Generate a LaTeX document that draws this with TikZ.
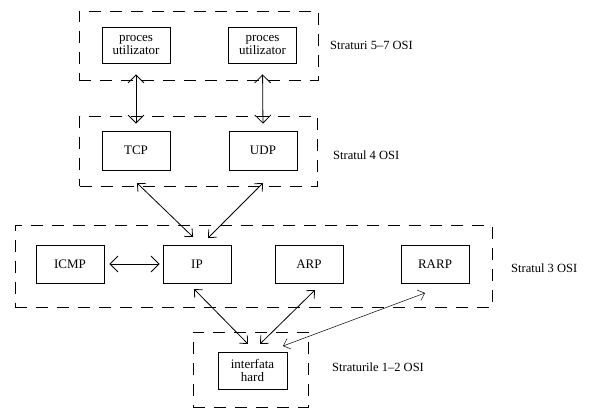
\documentclass[tikz,border=0pt]{standalone}
\usepackage{fontspec}
\setmainfont{Liberation Serif}
\usetikzlibrary{arrows.meta}
\begin{document}
\begin{tikzpicture}[x=1pt,y=-1pt,
  box/.style={draw,line width=0.8pt,minimum width=68pt,minimum height=38pt,inner sep=0pt,align=center,font=\fontsize{13}{13.5}\selectfont},
  frame/.style={draw,line width=0.8pt,dash pattern=on 12pt off 9pt,inner sep=0pt},
  lbl/.style={anchor=west,inner sep=0pt,font=\fontsize{12.5}{14}\selectfont},
  arr/.style={line width=0.8pt,{Straight Barb[length=8pt,width=16pt]}-{Straight Barb[length=8pt,width=16pt]}},
  darr/.style={line width=0.8pt,{Straight Barb[length=6pt,width=11pt]}-{Straight Barb[length=6pt,width=11pt]}},
  tarr/.style={line width=0.5pt,{Straight Barb[length=6pt,width=11pt]}-{Straight Barb[length=6pt,width=11pt]}}]
\useasboundingbox (0,0) rectangle (590,420);
% frames
\node[frame,minimum width=239pt,minimum height=69pt] (f57) at (198.5,46) {};
\node[frame,minimum width=238pt,minimum height=70pt] (f4) at (198.5,151) {};
\node[frame,minimum width=477pt,minimum height=82pt] (f3) at (253.5,266.5) {};
\node[frame,minimum width=115pt,minimum height=75pt] (f12) at (250.5,369.5) {};
% boxes
\node[box,minimum height=36pt] (p1) at (136,45) {proces\\utilizator};
\node[box,minimum height=36pt] (p2) at (262.5,45) {proces\\utilizator};
\node[box,minimum height=39pt] (tcp) at (136,150.5) {TCP};
\node[box,minimum height=39pt] (udp) at (263,150.5) {UDP};
\node[box] (icmp) at (70,264) {ICMP};
\node[box] (ip) at (197,264) {IP};
\node[box] (arp) at (309,264) {ARP};
\node[box] (rarp) at (435,264) {RARP};
\node[box,minimum width=69pt,minimum height=37pt] (hw) at (252.5,370.5) {interfata\\hard};
% labels
\node[lbl] (l57) at (330,45) {Straturi 5--7 OSI};
\node[lbl] (l4) at (333,155) {Stratul 4 OSI};
\node[lbl] (l3) at (511,268) {Stratul 3 OSI};
\node[lbl] (l12) at (332,367) {Straturile 1--2 OSI};
% connectors
\draw[arr,shorten <=11pt,shorten >=7pt] (p1.south) -- (tcp.north);
\draw[arr,shorten <=11pt,shorten >=7pt] (p2.south) -- (udp.north);
\draw[arr,shorten <=5pt,shorten >=3pt] (icmp.east) -- (ip.west);
\coordinate (tcpB) at (137,183);
\coordinate (udpB) at (263,183);
\coordinate (ipT1) at (193,237);
\coordinate (ipT2) at (208,238);
\coordinate (ipB) at (194,289);
\coordinate (arpB) at (315,290);
\coordinate (rarpB) at (425,293);
\coordinate (hwT1) at (248,344);
\coordinate (hwT2) at (260,344);
\coordinate (hwT3) at (283,346);
\draw[darr] (tcpB) -- (ipT1);
\draw[darr] (udpB) -- (ipT2);
\draw[darr] (ipB) -- (hwT1);
\draw[darr] (arpB) -- (hwT2);
\draw[tarr] (rarpB) -- (hwT3);
\end{tikzpicture}
\end{document}
